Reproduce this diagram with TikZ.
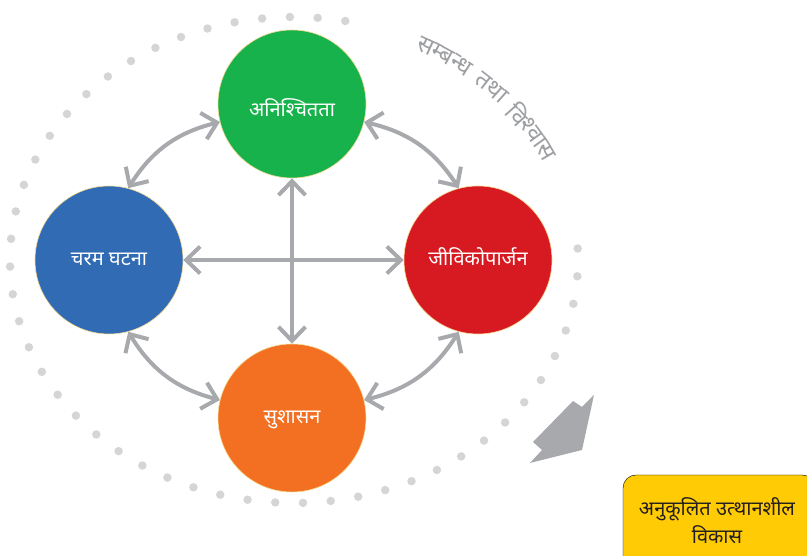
\documentclass[tikz,border=0pt]{standalone}
\usepackage{fontspec}
\newfontfamily\deva[Script=Devanagari]{Noto Sans}
\usetikzlibrary{arrows.meta}
\definecolor{hubgreen}{HTML}{17B24B}
\definecolor{hubblue}{HTML}{306BB4}
\definecolor{hubred}{HTML}{D71A21}
\definecolor{huborange}{HTML}{F37022}
\definecolor{rimcol}{HTML}{F3D88F}
\definecolor{linkgray}{HTML}{A7A9AC}
\definecolor{dotgray}{HTML}{D4D5D7}
\definecolor{boxyellow}{HTML}{FFCB05}
\definecolor{arcgray}{HTML}{9D9FA2}
\definecolor{boxtext}{HTML}{231F20}
\newsavebox\clusterbox
\newcommand\arcfont{\deva\fontsize{24}{28}\selectfont}

\begin{document}
\foreach \s [count=\k] in {स,म्ब,न्ध,त,था,वि,श्वा,स}{%
  \sbox\clusterbox{\arcfont\s}%
  \expandafter\xdef\csname clusterwd\romannumeral\k\endcsname{\the\wd\clusterbox}}%
\begin{tikzpicture}
[x=1pt,y=1pt,%
  hub/.style={shape=circle,minimum size=148pt,inner sep=0pt,draw=rimcol,line width=0.6pt,text=white,
    text height=16pt,text depth=5pt,font=\deva\fontsize{20}{24}\selectfont},%
  link/.style={{Straight Barb[length=14pt,width=27pt,sharp]}-{Straight Barb[length=14pt,width=27pt,sharp]},line width=4pt,draw=linkgray},%
  dotring/.style={draw=dotgray,line width=8.5pt,line cap=round,dash pattern=on 0pt off 27.8pt},%
  arcword/.style={text=arcgray,inner sep=0pt,font=\arcfont},%
  goalbox/.style={fill=boxyellow,rounded corners=13pt}]
\useasboundingbox (0,0) rectangle (807,556);
\clip (0,0) rectangle (807,556);
% dotted ring
\draw[dotring] (294,296) ++(79.6:284 and 243)
  arc[start angle=79.6,end angle=366.4,x radius=284,y radius=243];
% ring caption, one cluster after the other along the ring
\gdef\tcur{63.8}
\foreach \g/\s [count=\k] in {0/स,0/म्ब,0/न्ध,1/त,0/था,1/वि,0/श्वा,0/स}{
  \pgfmathsetmacro\spd{100*sqrt((2.82*sin(\tcur))^2+(2.42*cos(\tcur))^2)}
  \pgfmathsetmacro\tgap{\tcur-\g*10/\spd*57.2958}
  \edef\cw{\csname clusterwd\romannumeral\k\endcsname}
  \pgfmathsetmacro\half{\cw/2/\spd*57.2958}
  \pgfmathsetmacro\tmid{\tgap-\half}
  \pgfmathsetmacro\rot{atan2(-2.42*cos(\tmid),2.82*sin(\tmid))}
  \path (294,296) ++(\tmid:282 and 242) node (word\k) [arcword,rotate=\rot] {\s};
  \pgfmathsetmacro\tnew{\tgap-2*\half}
  \xdef\tcur{\tnew}
}
% hubs
\node (uncert) [hub,fill=hubgreen,text height=28pt,text depth=2pt] at (292,452) {अनिश्चितता};
\node (event) [hub,fill=hubblue] at (109,296) {चरम घटना};
\node (liveli) [hub,fill=hubred] at (478,296) {जीविकोपार्जन};
\node (govern) [hub,fill=huborange] at (292,138) {सुशासन};
% links
\draw[link] (uncert.south) -- (govern.north);
\draw[link] (event.east) -- (liveli.west);
\draw[link] (uncert.194) to[bend right=22] (event.75);
\draw[link] (uncert.-14) to[bend left=22] (liveli.105);
\draw[link] (event.-75) to[bend right=22] (govern.166);
\draw[link] (liveli.-105) to[bend left=22] (govern.14);
% direction arrow
\fill[linkgray] (573,155) -- (582,149) -- (594,161) -- (582,106)
  -- (530,93) -- (542,106) -- (533,114) -- cycle;
% outcome
\draw[goalbox] (623,81) rectangle (815,-20);
\node (goal) [text=boxtext,align=center,font=\deva\fontsize{20}{28}\selectfont] at (717,35)
  {अनुकूलित उत्थानशील\\विकास};
\end{tikzpicture}
\end{document}
